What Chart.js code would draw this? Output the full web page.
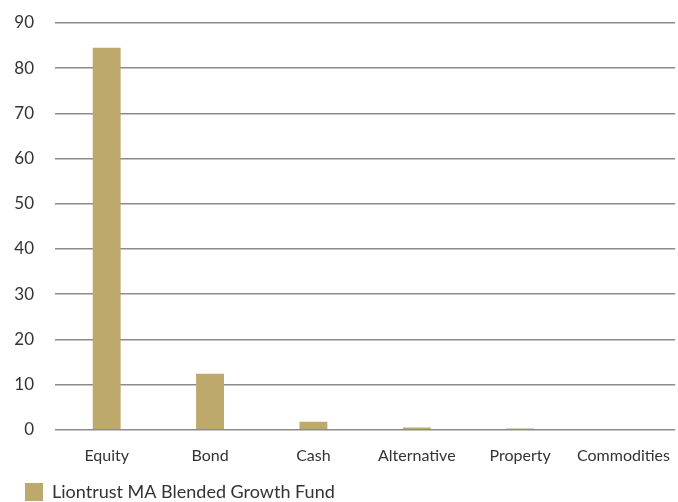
<!DOCTYPE html>
<html>
<head>
<meta charset="utf-8">
<script src="https://cdn.jsdelivr.net/npm/chart.js@4.4.0/dist/chart.umd.min.js"></script>
<style>
html,body{margin:0;padding:0;background:#fff}
#wrap{width:678px;height:502px}
</style>
</head>
<body>
<div id="wrap"><canvas id="c"></canvas></div>
<script>
var labels = ['Equity','Bond','Cash','Alternative','Property','Commodities']
var fund = [84.5,12.4,1.8,0.5,0.3,0.2]
var yTicks = [0,10,20,30,40,50,60,70,80,90]

// nudge the legend to the right like the original
var legendShift = {
    id:'legendShift',
    afterLayout:(chart)=>{
        chart.legend.left += 23
        chart.legend.right += 23
    }
}

let ctx = document.getElementById('c').getContext('2d')
var chart = new Chart(ctx,{
    type:'bar',
    plugins:[legendShift],
    data:{
        labels:labels,
        datasets:[{
            label:'Liontrust MA Blended Growth Fund',
            data:fund,
            backgroundColor:'#bca96b',
            borderWidth:0,
            barPercentage:0.3,
            categoryPercentage:0.9
        }]
    },
    options:{
        responsive:true,
        maintainAspectRatio:false,
        animation:false,
        layout:{padding:{top:0,right:0,left:0,bottom:-9}},
        plugins:{
            legend:{
                display:true,
                position:'bottom',
                align:'start',
                labels:{
                    color:'#333',
                    font:{family:'Lato',size:18},
                    boxWidth:18,
                    boxHeight:18,
                    padding:2
                }
            },
            tooltip:{enabled:false}
        },
        scales:{
            x:{
                grid:{display:false},
                border:{display:false},
                ticks:{color:'#333',font:{family:'Lato',size:16},padding:8},
                afterFit:(axis)=>{ axis.height += 8 }
            },
            y:{
                min:0,
                max:90,
                afterBuildTicks:(axis)=>{ axis.ticks = yTicks.map(v=>({value:v})) },
                afterFit:(axis)=>{
                    axis.width = 55
                    axis.paddingTop = 23
                },
                grid:{color:'#8c8c8c',lineWidth:1.5,drawTicks:false},
                border:{display:false},
                ticks:{color:'#333',font:{family:'Lato',size:17},padding:21}
            }
        }
    }
})
</script>
</body>
</html>
